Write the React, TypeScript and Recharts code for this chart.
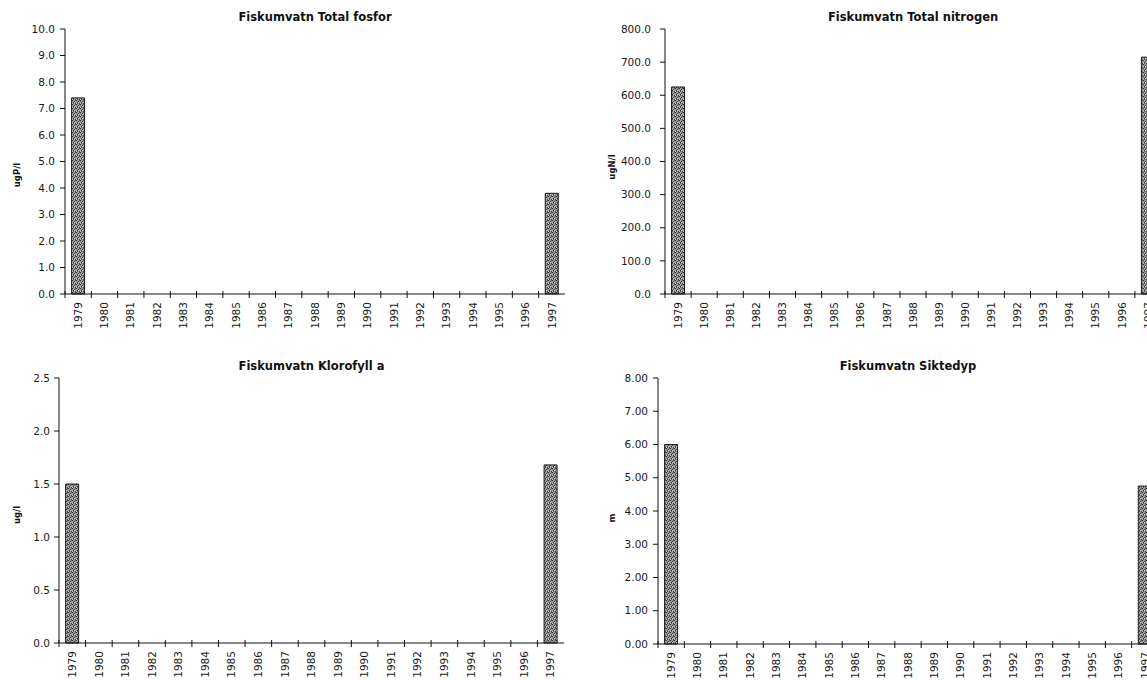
import React from 'react';
import { BarChart, Bar, XAxis, YAxis } from 'recharts';

const years = ['1979', '1980', '1981', '1982', '1983', '1984', '1985', '1986', '1987', '1988', '1989', '1990', '1991', '1992', '1993', '1994', '1995', '1996', '1997'];

// only 1979 and 1997 were sampled
const totalFosfor = [7.4, null, null, null, null, null, null, null, null, null, null, null, null, null, null, null, null, null, 3.8];
const totalNitrogen = [625, null, null, null, null, null, null, null, null, null, null, null, null, null, null, null, null, null, 715];
const klorofyll = [1.5, null, null, null, null, null, null, null, null, null, null, null, null, null, null, null, null, null, 1.68];
const siktedyp = [6.0, null, null, null, null, null, null, null, null, null, null, null, null, null, null, null, null, null, 4.75];

const fosforTicks = [0, 1, 2, 3, 4, 5, 6, 7, 8, 9, 10];
const nitrogenTicks = [0, 100, 200, 300, 400, 500, 600, 700, 800];
const klorofyllTicks = [0, 0.5, 1, 1.5, 2, 2.5];
const siktedypTicks = [0, 1, 2, 3, 4, 5, 6, 7, 8];

const FONT = '"DejaVu Sans", "Liberation Sans", Arial, sans-serif';

function YearTick({ x, y, payload, band }: any) {
  const ly = y + 8;
  return (
    <g>
      <line x1={x - band / 2} x2={x - band / 2} y1={y - 3} y2={y + 4} stroke="#111" />
      <text
        x={x}
        y={ly}
        dy="0.35em"
        textAnchor="end"
        transform={`rotate(-90, ${x}, ${ly})`}
        fontSize={10.5}
        fontFamily={FONT}
        fill="#1a1a1a"
      >
        {payload.value}
      </text>
    </g>
  );
}

type PanelProps = {
  id: string;
  title: string;
  unit: string;
  values: (number | null)[];
  ticks: number[];
  decimals: number;
  left: number;
  top: number;
  axisWidth: number;
  plotWidth: number;
  plotTop: number;
  plotHeight: number;
  xAxisHeight: number;
  tickGap: number;
  unitX: number;
  unitY: number;
};

function Panel(p: PanelProps) {
  const data = years.map((year, i) => ({ year, value: p.values[i] }));
  const width = p.axisWidth + p.plotWidth + 10;
  const height = p.plotTop + p.plotHeight + p.xAxisHeight;
  const band = p.plotWidth / years.length;
  const plotLeft = p.left + p.axisWidth;
  return (
    <>
      <div style={{ position: 'absolute', left: p.left, top: p.top, width, height }}>
        <BarChart
          width={width}
          height={height}
          data={data}
          margin={{ top: p.plotTop, right: 10, left: 0, bottom: 0 }}
          barCategoryGap="25%"
        >
          <defs>
            <pattern id={`speckle-${p.id}`} width="4" height="4" patternUnits="userSpaceOnUse">
              <rect width="4" height="4" fill="#9c9c9c" />
              <rect x="0" y="0" width="1" height="1" fill="#2e2e2e" />
              <rect x="2" y="1" width="1" height="1" fill="#3a3a3a" />
              <rect x="1" y="2" width="1" height="1" fill="#2e2e2e" />
              <rect x="3" y="3" width="1" height="1" fill="#444" />
              <rect x="3" y="0" width="1" height="1" fill="#5a5a5a" />
              <rect x="1" y="3" width="1" height="1" fill="#5a5a5a" />
              <rect x="2" y="2" width="1" height="1" fill="#d0d0d0" />
              <rect x="0" y="3" width="1" height="1" fill="#c8c8c8" />
            </pattern>
          </defs>
          <XAxis
            dataKey="year"
            interval={0}
            height={p.xAxisHeight}
            tickSize={0}
            tickMargin={0}
            tickLine={false}
            axisLine={{ stroke: '#111' }}
            tick={(t: any) => <YearTick {...t} band={band} />}
          />
          <XAxis
            xAxisId="top"
            dataKey="year"
            orientation="top"
            height={0}
            tick={false}
            tickLine={false}
            axisLine={{ stroke: '#222' }}
          />
          <YAxis
            type="number"
            domain={[p.ticks[0], p.ticks[p.ticks.length - 1]]}
            ticks={p.ticks}
            interval={0}
            width={p.axisWidth}
            tickSize={5}
            tickMargin={p.tickGap}
            tickFormatter={(v: number) => v.toFixed(p.decimals)}
            tick={{ fontSize: 10.5, fontFamily: FONT, fill: '#1a1a1a' }}
            axisLine={{ stroke: '#111' }}
            tickLine={{ stroke: '#111' }}
          />
          <YAxis
            yAxisId="right"
            orientation="right"
            width={0}
            tick={false}
            tickLine={false}
            axisLine={{ stroke: '#777', strokeDasharray: '1 1' }}
          />
          <Bar
            dataKey="value"
            fill={`url(#speckle-${p.id})`}
            stroke="#1a1a1a"
            strokeWidth={1}
            isAnimationActive={false}
          />
        </BarChart>
      </div>
      <div
        style={{
          position: 'absolute',
          left: plotLeft,
          top: p.top + p.plotTop - 19,
          width: p.plotWidth,
          textAlign: 'center',
          fontFamily: FONT,
          fontWeight: 'bold',
          fontSize: 11.5,
          lineHeight: '14px',
          color: '#111',
        }}
      >
        {p.title}
      </div>
      <div
        style={{
          position: 'absolute',
          left: p.left + p.unitX,
          top: p.top + p.unitY,
          transform: 'translate(-50%, -50%) rotate(-90deg)',
          fontFamily: FONT,
          fontWeight: 'bold',
          fontSize: 8.5,
          color: '#111',
          whiteSpace: 'nowrap',
        }}
      >
        {p.unit}
      </div>
    </>
  );
}

export default function App() {
  return (
    <div style={{ position: 'absolute', left: 0, top: 0, width: 1147, height: 680, overflow: 'hidden', background: '#fff' }}>
      <Panel
        id="p" title="Fiskumvatn Total fosfor" unit="ugP/l" values={totalFosfor} ticks={fosforTicks} decimals={1}
        left={0} top={0} axisWidth={65} plotWidth={500} plotTop={29} plotHeight={265} xAxisHeight={46} tickGap={5} unitX={17} unitY={175}
      />
      <Panel
        id="n" title="Fiskumvatn Total nitrogen" unit="ugN/l" values={totalNitrogen} ticks={nitrogenTicks} decimals={1}
        left={575} top={0} axisWidth={90} plotWidth={496} plotTop={29} plotHeight={265} xAxisHeight={46} tickGap={9} unitX={37} unitY={167}
      />
      <Panel
        id="k" title="Fiskumvatn Klorofyll a" unit="ug/l" values={klorofyll} ticks={klorofyllTicks} decimals={1}
        left={0} top={340} axisWidth={59} plotWidth={505} plotTop={38} plotHeight={265} xAxisHeight={37} tickGap={4} unitX={17} unitY={175}
      />
      <Panel
        id="s" title="Fiskumvatn Siktedyp" unit="m" values={siktedyp} ticks={siktedypTicks} decimals={2}
        left={574} top={340} axisWidth={84} plotWidth={500} plotTop={38} plotHeight={266} xAxisHeight={36} tickGap={5} unitX={38} unitY={178}
      />
    </div>
  );
}
